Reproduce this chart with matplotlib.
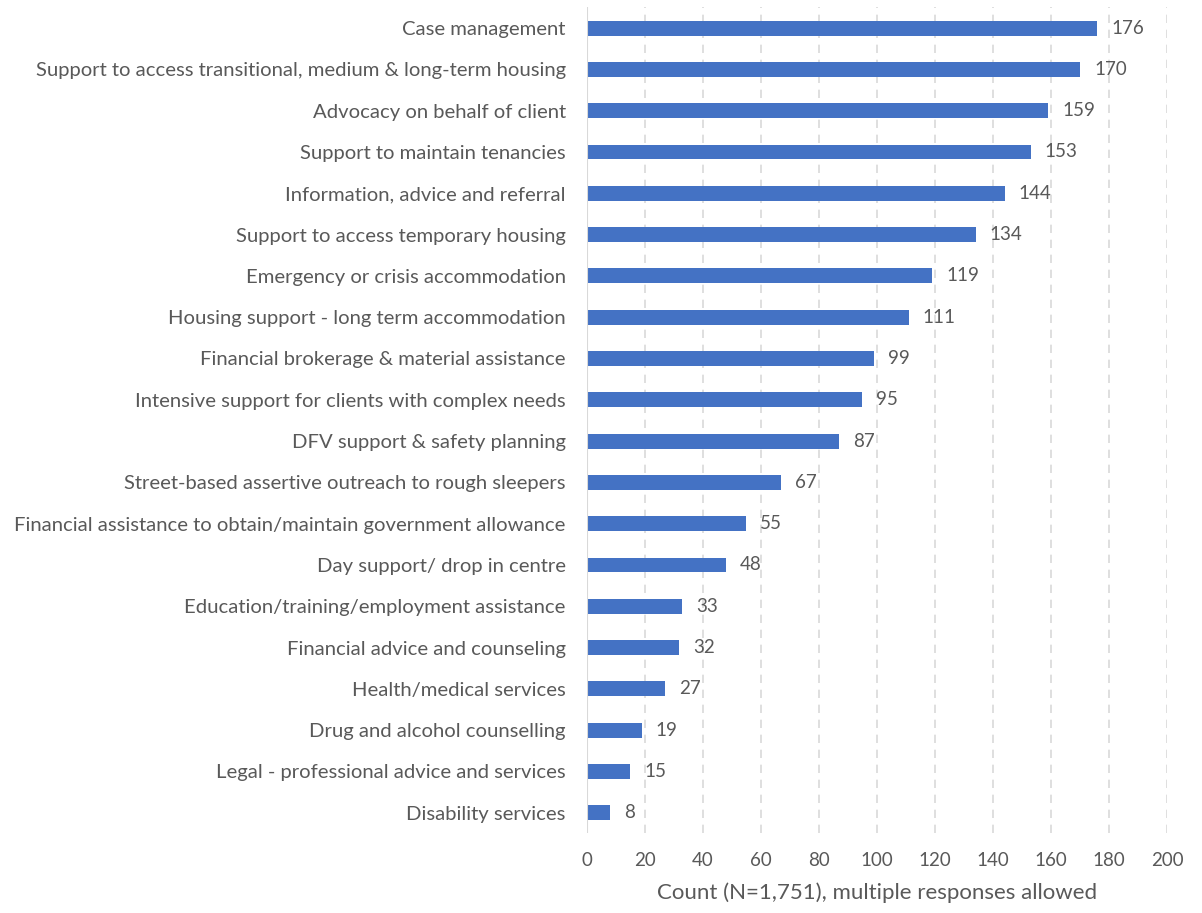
import matplotlib
matplotlib.use("Agg")
import matplotlib.pyplot as plt

# service categories and counts, top to bottom
services = [
    "Case management",
    "Support to access transitional, medium & long-term housing",
    "Advocacy on behalf of client",
    "Support to maintain tenancies",
    "Information, advice and referral",
    "Support to access temporary housing",
    "Emergency or crisis accommodation",
    "Housing support - long term accommodation",
    "Financial brokerage & material assistance",
    "Intensive support for clients with complex needs",
    "DFV support & safety planning",
    "Street-based assertive outreach to rough sleepers",
    "Financial assistance to obtain/maintain government allowance",
    "Day support/ drop in centre",
    "Education/training/employment assistance",
    "Financial advice and counseling",
    "Health/medical services",
    "Drug and alcohol counselling",
    "Legal - professional advice and services",
    "Disability services",
]
counts = [176, 170, 159, 153, 144, 134, 119, 111, 99, 95, 87, 67, 55, 48, 33, 32, 27, 19, 15, 8]
x_ticks = list(range(0, 201, 20))

plt.rcParams["font.family"] = ["Lato", "DejaVu Sans"]
TEXT = "#595959"
BLUE = "#4472C4"

fig = plt.figure(figsize=(12.02, 9.13), dpi=100)
ax = fig.add_axes([0.488, 0.0876, 0.483, 0.9047])

pos = list(range(len(services)))
ax.barh(pos, counts, height=0.36, color=BLUE, zorder=3)
for p, v in zip(pos, counts):
    ax.text(v + 4.8, p, str(v), va="center", ha="left", fontsize=13.5, color=TEXT)

ax.set_xlim(0, 200)
ax.set_ylim(19.49, -0.51)
ax.set_xticks(x_ticks)
ax.set_yticks(pos)
ax.set_yticklabels(services, fontsize=14.6, color=TEXT)
ax.tick_params(axis="x", labelsize=13.5, labelcolor=TEXT, length=0, pad=14)
ax.tick_params(axis="y", length=0, pad=15)

for t in x_ticks[1:]:
    ax.axvline(t, color="#D9D9D9", lw=1.2, ls=(0, (5, 4)), zorder=1)
ax.axvline(0, color="#D9D9D9", lw=1.5, zorder=4)

for s in ax.spines.values():
    s.set_visible(False)

ax.set_xlabel("Count (N=1,751), multiple responses allowed", fontsize=16, color=TEXT, labelpad=9)

fig.savefig("out.png", dpi=100)
